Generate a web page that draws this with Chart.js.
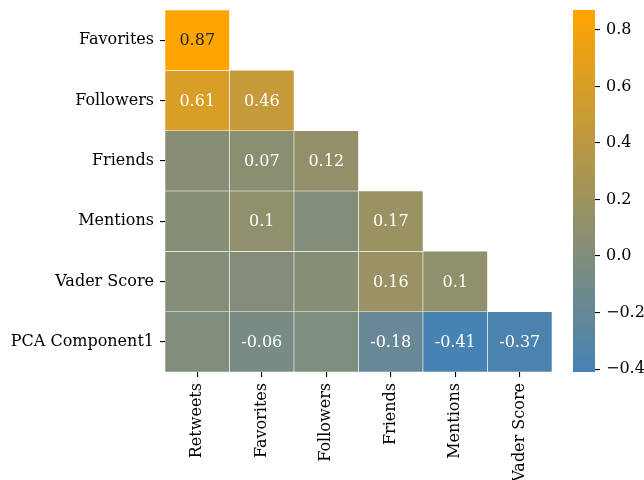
<!DOCTYPE html>
<html>
<head>
<meta charset="utf-8">
<script src="https://cdn.jsdelivr.net/npm/chart.js@4"></script>
<style>
  html, body { margin: 0; padding: 0; background: #fff; }
  #wrap { position: relative; width: 644px; height: 480px; }
  #heat { position: absolute; left: 0; top: 0; }
  #cbar { position: absolute; left: 560px; top: 0; }
</style>
</head>
<body>
<div id="wrap">
  <canvas id="heat" width="644" height="480"></canvas>
  <canvas id="cbar" width="84" height="480"></canvas>
</div>
<script>
// Column and row variables of the lower-triangle correlation matrix
const columnNames = ['Retweets', 'Favorites', 'Followers', 'Friends', 'Mentions', 'Vader Score'];
const rowNames = ['Favorites', 'Followers', 'Friends', 'Mentions', 'Vader Score', 'PCA Component1'];

// Correlations per row (row i holds columns 0..i)
const favoritesRow = [0.87];
const followersRow = [0.61, 0.46];
const friendsRow = [0.04, 0.07, 0.12];
const mentionsRow = [0.03, 0.10, 0.00, 0.17];
const vaderRow = [0.02, 0.01, 0.03, 0.16, 0.10];
const pcaRow = [-0.01, -0.06, -0.02, -0.18, -0.41, -0.37];

// Colour bar ticks
const colorbarTicks = [-0.4, -0.2, 0.0, 0.2, 0.4, 0.6, 0.8];

const rows = [favoritesRow, followersRow, friendsRow, mentionsRow, vaderRow, pcaRow];
const allValues = rows.flat();
const vmin = Math.min(...allValues);
const vmax = Math.max(...allValues);

const LOW = [70, 130, 180];   // steelblue
const HIGH = [255, 165, 0];   // orange
const FONT = { family: "'DejaVu Serif', serif", size: 16 };

function cellRGB(v) {
  const t = Math.max(0, Math.min(1, (v - vmin) / (vmax - vmin)));
  return LOW.map((c, k) => c + (HIGH[k] - c) * t);
}
function cellColor(v) {
  const c = cellRGB(v).map(Math.round);
  return `rgb(${c[0]},${c[1]},${c[2]})`;
}
function luminance(rgb) {
  const lin = rgb.map(c => {
    c = c / 255;
    return c <= 0.03928 ? c / 12.92 : Math.pow((c + 0.055) / 1.055, 2.4);
  });
  return 0.2126 * lin[0] + 0.7152 * lin[1] + 0.0722 * lin[2];
}

// One floating-bar dataset per row; each bar spans its row band
const datasets = rows.map((vals, i) => ({
  label: rowNames[i],
  values: columnNames.map((_, j) => (j < vals.length ? vals[j] : null)),
  data: columnNames.map((_, j) => (j < vals.length ? [i - 0.5, i + 0.5] : null)),
  backgroundColor: columnNames.map((_, j) => (j < vals.length ? cellColor(vals[j]) : 'rgba(0,0,0,0)')),
  borderColor: '#ffffff',
  borderWidth: 0.6,
  borderSkipped: false,
  barPercentage: 1,
  categoryPercentage: 1,
  grouped: false
}));

// Writes each correlation in its cell (values under 0.05 in size are left blank)
const cellLabels = {
  id: 'cellLabels',
  afterDatasetsDraw(chart) {
    const ctx = chart.ctx;
    ctx.save();
    ctx.font = `${FONT.size}px ${FONT.family}`;
    ctx.textAlign = 'center';
    ctx.textBaseline = 'middle';
    chart.data.datasets.forEach((ds, di) => {
      const meta = chart.getDatasetMeta(di);
      meta.data.forEach((el, j) => {
        const v = ds.values[j];
        if (v === null || Math.abs(v) < 0.05) return;
        const y = (el.y + el.base) / 2;
        ctx.fillStyle = luminance(cellRGB(v)) > 0.408 ? '#262626' : '#ffffff';
        ctx.fillText(String(Math.round(v * 100) / 100), el.x, y + 1);
      });
    });
    ctx.restore();
  }
};

function noOverhang(scale) {
  scale.paddingTop = 0;
  scale.paddingBottom = 0;
  scale.paddingLeft = 0;
  scale.paddingRight = 0;
}

new Chart(document.getElementById('heat'), {
  type: 'bar',
  data: { labels: columnNames, datasets },
  options: {
    responsive: false,
    animation: false,
    events: [],
    layout: { padding: { left: 0, top: 10, right: 92, bottom: 0 } },
    plugins: { legend: { display: false }, tooltip: { enabled: false } },
    scales: {
      x: {
        type: 'category',
        offset: true,
        grid: { offset: false, drawOnChartArea: false, drawTicks: true, tickLength: 5, color: '#000', lineWidth: 1.1 },
        border: { display: false },
        ticks: { color: '#000', font: FONT, minRotation: 90, maxRotation: 90, padding: 6, autoSkip: false },
        afterFit(scale) { scale.height = 108; noOverhang(scale); }
      },
      y: {
        type: 'linear',
        reverse: true,
        min: -0.5,
        max: 5.5,
        grid: { drawOnChartArea: false, drawTicks: true, tickLength: 5, color: '#000', lineWidth: 1.1 },
        border: { display: false },
        afterBuildTicks(scale) { scale.ticks = rowNames.map((_, i) => ({ value: i })); },
        ticks: { color: '#000', font: FONT, padding: 6, callback: v => rowNames[v] },
        afterFit(scale) { scale.width = 165; noOverhang(scale); }
      }
    }
  },
  plugins: [cellLabels]
});

// Colour bar: one bar spanning the value range, filled with the same ramp
new Chart(document.getElementById('cbar'), {
  type: 'bar',
  data: {
    labels: [''],
    datasets: [{
      data: [[vmin, vmax]],
      borderWidth: 0,
      borderSkipped: false,
      barPercentage: 1,
      categoryPercentage: 1,
      backgroundColor(ctx) {
        const area = ctx.chart.chartArea;
        if (!area) return cellColor(vmin);
        const g = ctx.chart.ctx.createLinearGradient(0, area.bottom, 0, area.top);
        g.addColorStop(0, cellColor(vmin));
        g.addColorStop(1, cellColor(vmax));
        return g;
      }
    }]
  },
  options: {
    responsive: false,
    animation: false,
    events: [],
    layout: { padding: { left: 13, top: 10, right: 0, bottom: 108 } },
    plugins: { legend: { display: false }, tooltip: { enabled: false } },
    scales: {
      x: { display: false, offset: true },
      y: {
        position: 'right',
        min: vmin,
        max: vmax,
        grid: { drawOnChartArea: false, drawTicks: true, tickLength: 5, color: '#000', lineWidth: 1.1 },
        border: { display: false },
        afterBuildTicks(scale) { scale.ticks = colorbarTicks.map(v => ({ value: v })); },
        ticks: {
          color: '#000',
          font: FONT,
          padding: 6,
          callback: v => (v < 0 ? '\u2212' : '') + Math.abs(v).toFixed(1)
        },
        afterFit(scale) { scale.width = 49; noOverhang(scale); }
      }
    }
  }
});
</script>
</body>
</html>
